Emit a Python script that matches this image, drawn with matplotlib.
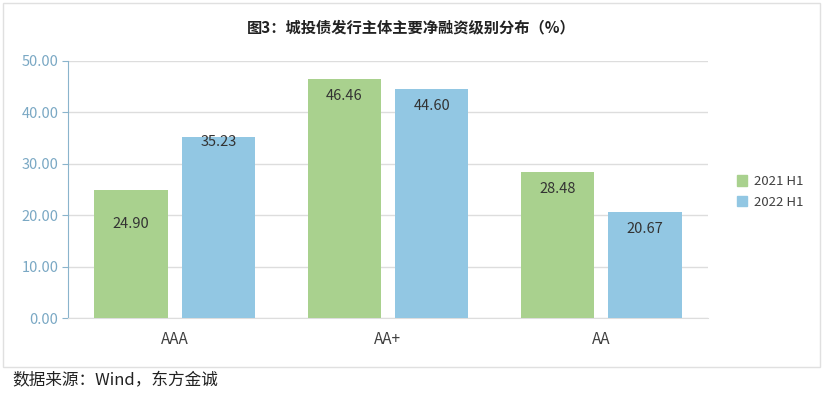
import matplotlib
matplotlib.use("Agg")
import matplotlib.pyplot as plt
from matplotlib.patches import Rectangle, Patch
import numpy as np

plt.rcParams['font.family'] = ['Noto Sans CJK SC', 'DejaVu Sans']

categories = ["AAA", "AA+", "AA"]
series_names = ["2021 H1", "2022 H1"]
values_2021 = [24.90, 46.46, 28.48]
values_2022 = [35.23, 44.60, 20.67]
yticks = [0, 10, 20, 30, 40, 50]
title = "图3：城投债发行主体主要净融资级别分布（%）"
source = "数据来源：Wind，东方金诚"

colors = ["#A9D18E", "#92C7E3"]
label_offsets = [[-34, -17, -17], [-5, -17, -17]]  # pixel offsets below bar top

fig = plt.figure(figsize=(8.33, 3.94), dpi=100)
fig.patches.append(Rectangle((3 / 833, 1 - 367 / 394), 817 / 833, 364 / 394,
                             transform=fig.transFigure, fill=False,
                             edgecolor="#E0E0E0", linewidth=1.0))

ax = fig.add_axes([68 / 833, 1 - 318 / 394, 640 / 833, 257 / 394])
x = np.arange(len(categories))
w = 0.343
off = 0.205
for i, (vals, name) in enumerate(zip([values_2021, values_2022], series_names)):
    pos = x + (-off if i == 0 else off)
    bars = ax.bar(pos, vals, width=w, color=colors[i], label=name, zorder=3)
    for j, (b, v) in enumerate(zip(bars, vals)):
        ax.annotate(f"{v:.2f}", (b.get_x() + b.get_width() / 2, v),
                    xytext=(0, label_offsets[i][j] * 0.72), textcoords="offset points",
                    ha="center", va="center", fontsize=10.5, color="#333333", zorder=4)

ax.set_xlim(-0.5, 2.5)
ax.set_ylim(0, 50)
ax.set_yticks(yticks)
ax.set_yticklabels([f"{t:.2f}" for t in yticks])
ax.set_xticks(x)
ax.set_xticklabels(categories)
ax.yaxis.grid(True, color="#DDDDDD", linewidth=1.0, zorder=0)
ax.set_axisbelow(True)
for s in ["top", "right"]:
    ax.spines[s].set_visible(False)
ax.spines["left"].set_color("#8AB4CC")
ax.spines["bottom"].set_color("#DDDDDD")
ax.tick_params(axis="y", colors="#8AB4CC", labelcolor="#7AA8C4", labelsize=10.5, length=4, pad=3)
ax.tick_params(axis="x", length=0, labelsize=11, labelcolor="#404040", pad=9)

handles = [Patch(color=c, label=n) for c, n in zip(colors, series_names)]
fig.legend(handles=handles, loc="center left", bbox_to_anchor=(725 / 833, 1 - 192 / 394),
           frameon=False, fontsize=9.5, handlelength=0.8, handleheight=0.8,
           handletextpad=0.5, labelspacing=0.6, labelcolor="#404040")

fig.text(0.494, 1 - 27 / 394, title, ha="center", va="center", fontsize=11,
         fontweight="bold", color="#222222")
fig.text(12 / 833, 1 - 381 / 394, source, ha="left", va="center", fontsize=12,
         color="#222222")

fig.savefig("out.png", dpi=100)
